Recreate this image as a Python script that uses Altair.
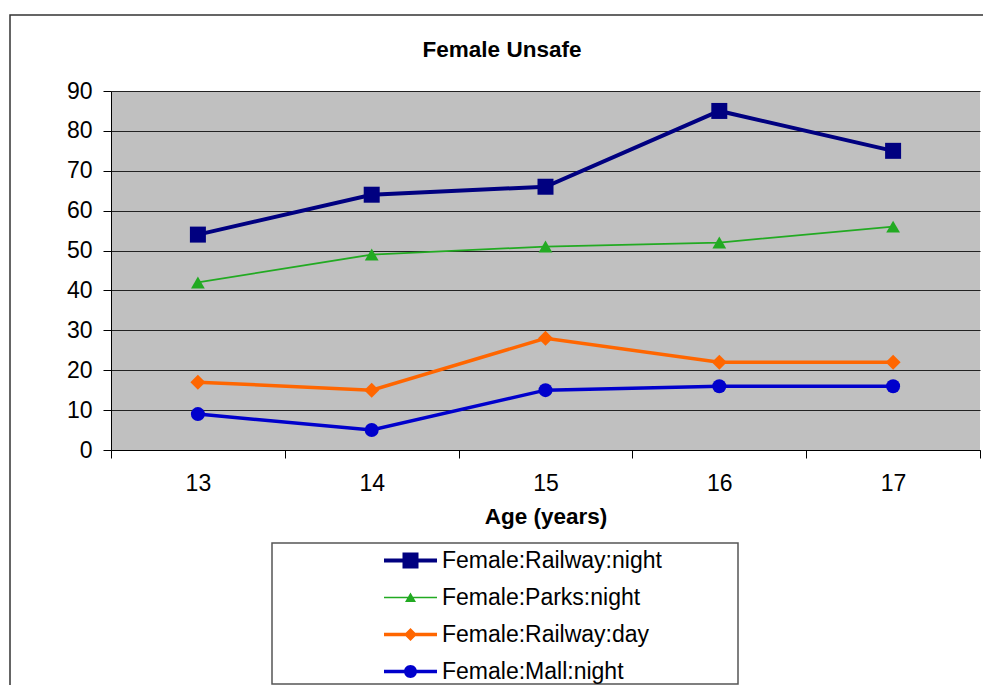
import altair as alt
import pandas as pd

# ---------------- data ----------------
ages = [13, 14, 15, 16, 17]
series_names = ["Female:Railway:night", "Female:Parks:night",
                "Female:Railway:day", "Female:Mall:night"]
railway_night = [54, 64, 66, 85, 75]
parks_night = [42, 49, 51, 52, 56]
railway_day = [17, 15, 28, 22, 22]
mall_night = [9, 5, 15, 16, 16]
colors = ["#000080", "#22AA22", "#FF6600", "#0000CC"]
x_tick_values = [12.5, 13.5, 14.5, 15.5, 16.5, 17.5]
y_tick_values = [0, 10, 20, 30, 40, 50, 60, 70, 80, 90]
chart_title = "Female Unsafe"
x_title = "Age (years)"

values_by_series = [railway_night, parks_night, railway_day, mall_night]
rows = []
for name, vals in zip(series_names, values_by_series):
    for a, v in zip(ages, vals):
        rows.append({"age": a, "series": name, "value": v})
df = pd.DataFrame(rows)

# ---------------- styling ----------------
W, H = 869, 359
FONT = "Liberation Sans"
LABEL_SIZE = 23
point_shapes = ["square", "triangle-up", "diamond", "circle"]
point_sizes = [256, 190, 225, 196]
line_widths = [4, 1.75, 3.5, 3.5]
# legend glyphs (fill only): a bar for the line plus the marker
legend_paths = [
    "M-2.65,-0.2H2.65V0.2H-2.65Z M-0.8,-0.8H0.8V0.8H-0.8Z",
    "M-2.65,-0.08H2.65V0.08H-2.65Z M0,-0.5L0.55,0.45H-0.55Z",
    "M-2.65,-0.175H2.65V0.175H-2.65Z M0,-0.65L0.65,0L0,0.65L-0.65,0Z",
    "M-2.65,-0.175H2.65V0.175H-2.65Z M-0.65,0A0.65,0.65,0,1,1,0.65,0A0.65,0.65,0,1,1,-0.65,0Z",
]

x_scale = alt.Scale(domain=[12.5, 17.5], nice=False, zero=False)
y_scale = alt.Scale(domain=[0, 90], nice=False, zero=True)


def y_axis():
    return alt.Axis(values=y_tick_values, tickSize=8, labelPadding=11,
                    labelFontSize=LABEL_SIZE, grid=True, gridColor="#222222",
                    title=None, domainColor="black", tickColor="black")


base = alt.Chart(df)

line_layers = []
point_layers = []
for i, (name, c, w, shp, sz) in enumerate(
        zip(series_names, colors, line_widths, point_shapes, point_sizes)):
    if i == 0:
        xa_line = alt.Axis(orient="bottom", values=x_tick_values, labels=False,
                           tickSize=8, tickColor="black", domainColor="black",
                           grid=False, title=x_title, titleFontSize=22.5,
                           titleFontWeight="bold", titleY=73,
                           titleBaseline="alphabetic")
        xa_pt = alt.Axis(orient="bottom", values=ages, ticks=False, tickSize=0,
                         domain=False, labelFontSize=LABEL_SIZE, labelPadding=22,
                         title=None, grid=False)
    else:
        xa_line = None
        xa_pt = None
    sub = base.transform_filter(alt.datum.series == name)
    line_layers.append(sub.mark_line(color=c, strokeWidth=w).encode(
        x=alt.X("age:Q", scale=x_scale, axis=xa_line),
        y=alt.Y("value:Q", scale=y_scale, axis=y_axis()),
    ))
    point_layers.append(sub.mark_point(
        shape=shp, size=sz, filled=True, opacity=1, color=c
    ).encode(
        x=alt.X("age:Q", scale=x_scale, axis=xa_pt),
        y=alt.Y("value:Q", scale=y_scale, axis=y_axis()),
    ))

legend_layer = base.transform_filter("false").mark_point(
    filled=True, opacity=1, strokeWidth=0
).encode(
    x=alt.X("age:Q", scale=x_scale, axis=None),
    y=alt.Y("value:Q", scale=y_scale, axis=y_axis()),
    color=alt.Color("series:N", scale=alt.Scale(domain=series_names, range=colors),
                    legend=alt.Legend(title=None)),
    shape=alt.Shape("series:N", scale=alt.Scale(domain=series_names, range=legend_paths),
                    legend=alt.Legend(title=None)),
)

title_layer = alt.Chart(alt.Data(values=[{"t": chart_title}])).mark_text(
    font=FONT, fontSize=22.5, fontWeight="bold", baseline="alphabetic",
    align="center", color="black"
).encode(text="t:N", x=alt.value(391), y=alt.value(-34))

outer_frame = alt.Chart(alt.Data(values=[{"k": 1}])).mark_rect(
    fill="transparent", stroke="#333333", strokeWidth=1.5
).encode(x=alt.value(-101), x2=alt.value(990), y=alt.value(-76), y2=alt.value(700))

legend_box = alt.Chart(alt.Data(values=[{"k": 1}])).mark_rect(
    fill="transparent", stroke="#555555", strokeWidth=1.5
).encode(x=alt.value(161), x2=alt.value(627), y=alt.value(452), y2=alt.value(593))

chart = alt.layer(
    outer_frame, legend_box, *line_layers, *point_layers, legend_layer, title_layer
).resolve_axis(x="independent").properties(
    width=W, height=H,
    autosize=alt.AutoSizeParams(type="none"),
    padding={"left": 103, "top": 83, "right": 3, "bottom": 235},
    background="white",
).configure_view(
    fill="#C0C0C0", stroke=None
).configure_axis(
    labelFont=FONT, titleFont=FONT, labelColor="black", titleColor="black"
).configure_legend(
    orient="none", legendX=288, legendY=458, symbolSize=400,
    symbolStrokeWidth=0,
    labelFontSize=LABEL_SIZE, labelFont=FONT, labelColor="black", rowPadding=13,
    labelOffset=20, padding=0, labelLimit=400, symbolOpacity=1,
)

chart.save("out.html", embed_options={"renderer": "svg", "actions": False})
